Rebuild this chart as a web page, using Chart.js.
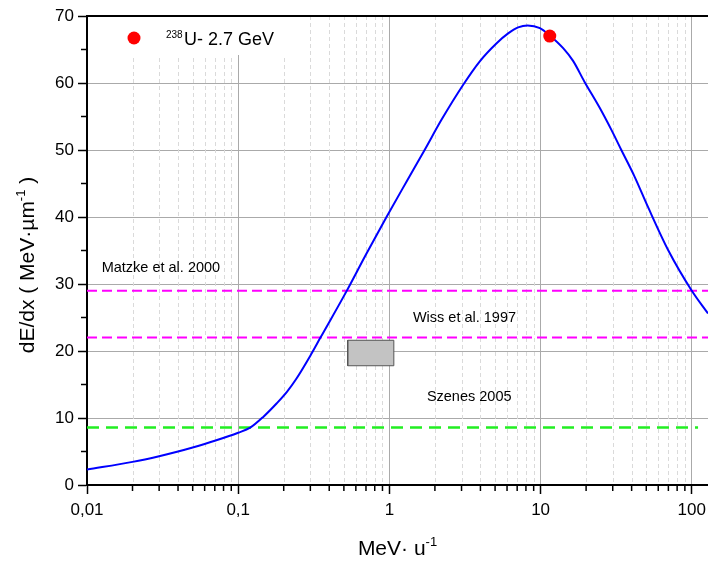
<!DOCTYPE html>
<html>
<head>
<meta charset="utf-8">
<script src="https://cdn.jsdelivr.net/npm/chart.js@4/dist/chart.umd.min.js"></script>
<style>
  body { margin: 0; background: #fff; }
  canvas { display: block; }
</style>
</head>
<body>
<canvas id="myChart" width="708" height="561"></canvas>
<script>
// stopping power curve
const energy = [0.01, 0.02, 0.03, 0.04, 0.05, 0.07, 0.1, 0.12, 0.147, 0.18, 0.21, 0.24, 0.3, 0.35, 0.52, 0.7, 0.957, 1.3, 1.71, 2.21, 3.07, 3.95, 5.1, 6.1, 7.1, 8.2, 9.9, 11.5, 14.1, 16.4, 19.5, 24.6, 29.4, 34.2, 41.9, 51.3, 70, 100, 128];
const dEdx = [2.3, 3.45, 4.3, 5.0, 5.6, 6.6, 7.8, 8.55, 10.2, 12.2, 13.9, 15.7, 19.3, 22, 28.9, 34.4, 40, 45.3, 50, 54.5, 59.7, 63.2, 65.9, 67.4, 68.3, 68.6, 68.2, 67.1, 65.2, 63.3, 60.2, 56.3, 53.0, 50, 46, 41.5, 35, 29, 25.6];

const uPoint = [11.5, 67];
const uLabel = "U- 2.7 GeV";
const uLabelSup = "238";

const matzkeY = 29;
const wissY = 22;
const szenesY = 8.6;
const szenesXEnd = 110;
const boxX = [0.53, 1.07];
const boxY = [17.8, 21.6];

const xMin = 0.01, xMax = 128;
const yMin = 0, yMax = 70;
const xMajor = [0.01, 0.1, 1, 10, 100];
const xTickLabels = ["0,01", "0,1", "1", "10", "100"];
const yMinorTicks = [5, 15, 25, 35, 45, 55, 65];

const notes = [
  { text: "Matzke et al. 2000", x: 0.0125, y: 31.8 },
  { text: "Wiss et al. 1997", x: 1.43, y: 24.3 },
  { text: "Szenes 2005", x: 1.77, y: 12.5 },
];

const FONT = 'Arial, "Liberation Sans", sans-serif';

const xMinor = [];
xMajor.forEach(d => {
  for (let m = 2; m <= 9; m++) {
    const v = +(d * m).toPrecision(3);
    if (v < xMax) xMinor.push(v);
  }
});

const decor = {
  id: "decor",
  beforeDatasetsDraw(chart) {
    const { ctx, chartArea: a, scales: { x, y } } = chart;
    ctx.save();
    // minor vertical grid, dashed
    ctx.strokeStyle = "#dadada";
    ctx.lineWidth = 1;
    ctx.setLineDash([4, 3]);
    xMinor.forEach(v => {
      const px = Math.round(x.getPixelForValue(v)) + 0.5;
      ctx.beginPath();
      ctx.moveTo(px, a.top);
      ctx.lineTo(px, a.bottom);
      ctx.stroke();
    });
    ctx.setLineDash([]);
    // minor ticks
    ctx.strokeStyle = "#000";
    ctx.lineWidth = 1.5;
    xMinor.forEach(v => {
      const px = x.getPixelForValue(v);
      ctx.beginPath();
      ctx.moveTo(px, a.bottom);
      ctx.lineTo(px, a.bottom + 6);
      ctx.stroke();
    });
    yMinorTicks.forEach(v => {
      const py = y.getPixelForValue(v);
      ctx.beginPath();
      ctx.moveTo(a.left - 6, py);
      ctx.lineTo(a.left, py);
      ctx.stroke();
    });
    // legend box
    ctx.fillStyle = "#fff";
    ctx.fillRect(a.left + 1, a.top + 1, 212, 38);
    ctx.fillStyle = "#ff0000";
    ctx.beginPath();
    ctx.arc(a.left + 47, a.top + 22, 6.5, 0, Math.PI * 2);
    ctx.fill();
    ctx.fillStyle = "#000";
    ctx.textBaseline = "alphabetic";
    ctx.font = "10px " + FONT;
    ctx.fillText(uLabelSup, a.left + 79, a.top + 22);
    ctx.font = "18px " + FONT;
    ctx.fillText(uLabel, a.left + 97, a.top + 29);
    // notes
    ctx.font = "14.5px " + FONT;
    notes.forEach(n => ctx.fillText(n.text, x.getPixelForValue(n.x), y.getPixelForValue(n.y)));
    ctx.restore();
  },
  afterDraw(chart) {
    const { ctx, chartArea: a } = chart;
    ctx.save();
    ctx.strokeStyle = "#000";
    ctx.lineWidth = 2;
    ctx.beginPath();
    ctx.moveTo(a.left, a.top);
    ctx.lineTo(a.right, a.top);
    ctx.stroke();
    // axis titles with superscripts
    ctx.fillStyle = "#000";
    ctx.textBaseline = "alphabetic";
    const big = "21px " + FONT, small = "13px " + FONT;
    // x title
    ctx.font = big;
    const xt = "MeV\u00b7 u";
    const w1 = ctx.measureText(xt).width;
    ctx.font = small;
    const w2 = ctx.measureText("-1").width;
    let sx = (a.left + a.right) / 2 - (w1 + w2) / 2;
    ctx.font = big;
    ctx.fillText(xt, sx, 555);
    ctx.font = small;
    ctx.fillText("-1", sx + w1, 546);
    // y title
    ctx.translate(27, 265);
    ctx.rotate(-Math.PI / 2);
    const yt = "dE/dx ( MeV\u00b7\u00b5m";
    ctx.font = big;
    const v1 = ctx.measureText(yt).width;
    const v3 = ctx.measureText(" )").width;
    ctx.font = small;
    const v2 = ctx.measureText("-1").width;
    let sy = -(v1 + v2 + v3) / 2;
    ctx.font = big;
    ctx.fillText(yt, sy, 7);
    ctx.fillText(" )", sy + v1 + v2, 7);
    ctx.font = small;
    ctx.fillText("-1", sy + v1, -2);
    ctx.restore();
  }
};

const ctx = document.getElementById("myChart").getContext("2d");
const myChart = new Chart(ctx, {
  type: "scatter",
  data: {
    datasets: [
      {
        label: uLabelSup + uLabel,
        data: [{ x: uPoint[0], y: uPoint[1] }],
        backgroundColor: "#ff0000",
        borderWidth: 0,
        pointRadius: 6.5,
      },
      {
        label: "dE/dx",
        data: energy.map((e, i) => ({ x: e, y: dEdx[i] })),
        showLine: true,
        borderColor: "#0000ff",
        borderWidth: 2,
        pointRadius: 0,
        cubicInterpolationMode: "monotone",
      },
      {
        label: "Matzke et al. 2000",
        data: [{ x: xMin, y: matzkeY }, { x: xMax, y: matzkeY }],
        showLine: true,
        borderColor: "#ff00ff",
        borderWidth: 2,
        borderDash: [10, 5],
        pointRadius: 0,
      },
      {
        label: "Wiss et al. 1997",
        data: [{ x: xMin, y: wissY }, { x: xMax, y: wissY }],
        showLine: true,
        borderColor: "#ff00ff",
        borderWidth: 2,
        borderDash: [10, 5],
        pointRadius: 0,
      },
      {
        label: "Szenes 2005",
        data: [{ x: xMin, y: szenesY }, { x: szenesXEnd, y: szenesY }],
        showLine: true,
        borderColor: "#22ee22",
        borderWidth: 2.5,
        borderDash: [12, 7],
        pointRadius: 0,
      },
      {
        label: "box",
        data: [
          { x: boxX[0], y: boxY[0] }, { x: boxX[1], y: boxY[0] },
          { x: boxX[1], y: boxY[1] }, { x: boxX[0], y: boxY[1] },
          { x: boxX[0], y: boxY[0] },
        ],
        showLine: true,
        fill: "shape",
        backgroundColor: "#c3c3c3",
        borderColor: "#555555",
        borderWidth: 1,
        pointRadius: 0,
        tension: 0,
      },
    ],
  },
  options: {
    responsive: false,
    animation: false,
    layout: { autoPadding: false, padding: { top: 16, right: 0, left: 0, bottom: 0 } },
    plugins: { legend: { display: false }, tooltip: { enabled: false } },
    scales: {
      x: {
        type: "logarithmic",
        min: xMin,
        max: xMax,
        afterBuildTicks: s => { s.ticks = xMajor.map(v => ({ value: v })); },
        afterFit: s => { s.height = 76; s.paddingLeft = 0; s.paddingRight = 0; },
        ticks: {
          autoSkip: false,
          maxRotation: 0,
          padding: 6,
          color: "#000",
          font: { family: FONT, size: 17 },
          callback: v => xTickLabels[xMajor.indexOf(v)],
        },
        grid: { color: "#aaaaaa", lineWidth: 1, tickLength: 9, tickColor: "#000", tickWidth: 1.5 },
        border: { color: "#000", width: 2 },
      },
      y: {
        min: yMin,
        max: yMax,
        afterFit: s => { s.width = 87; s.paddingTop = 0; s.paddingBottom = 0; },
        ticks: {
          stepSize: 10,
          padding: 4,
          color: "#000",
          font: { family: FONT, size: 17 },
        },
        grid: { color: "#aaaaaa", lineWidth: 1, tickLength: 9, tickColor: "#000", tickWidth: 1.5 },
        border: { color: "#000", width: 2 },
      },
    },
  },
  plugins: [decor],
});
</script>
</body>
</html>
